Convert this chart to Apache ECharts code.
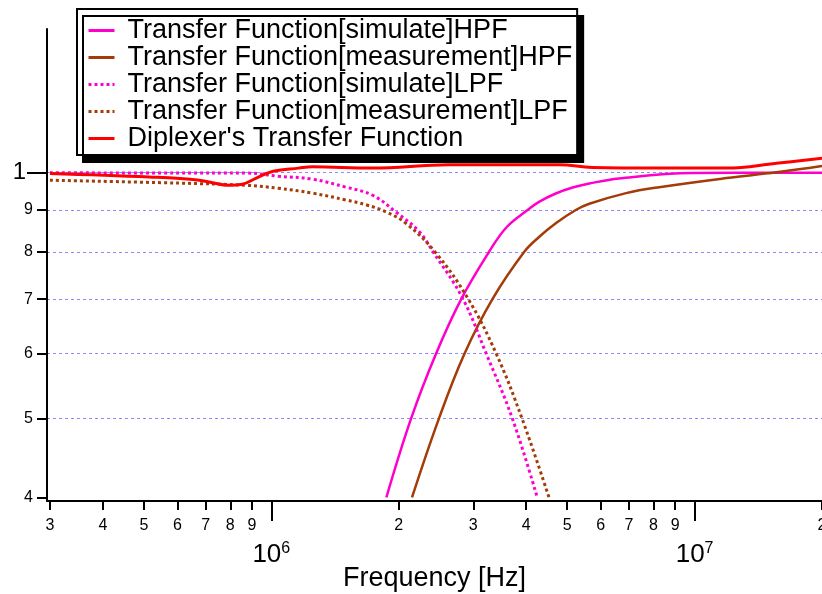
<!DOCTYPE html>
<html>
<head>
<meta charset="utf-8">
<script src="https://cdn.jsdelivr.net/npm/echarts@6/dist/echarts.min.js"></script>
<style>
  html, body { margin: 0; padding: 0; background: #fff; overflow: hidden; }
  #chart { width: 822px; height: 594px; }
</style>
</head>
<body>
<div id="chart"></div>
<script>
// values
const seriesNames = [
  'Transfer Function[simulate]HPF',
  'Transfer Function[measurement]HPF',
  'Transfer Function[simulate]LPF',
  'Transfer Function[measurement]LPF',
  "Diplexer's Transfer Function"
]

const hpfSimFreq = [1.87e6, 2.14e6, 2.45e6, 2.81e6, 3.27e6, 3.60e6, 4.03e6, 4.29e6, 4.70e6, 5.15e6, 5.64e6, 6.63e6, 9.87e6, 2.0e7]
const hpfSimVal = [0.400, 0.500, 0.600, 0.700, 0.800, 0.858, 0.900, 0.921, 0.943, 0.959, 0.970, 0.984, 0.999, 1.000]

const hpfMeasFreq = [2.15e6, 2.49e6, 2.86e6, 3.33e6, 3.96e6, 4.29e6, 4.70e6, 5.24e6, 5.64e6, 6.89e6, 8.25e6, 1.19e7, 1.56e7, 2.0e7]
const hpfMeasVal = [0.400, 0.500, 0.600, 0.700, 0.800, 0.834, 0.867, 0.900, 0.916, 0.944, 0.960, 0.985, 1.001, 1.019]

const lpfSimFreq = [3.0e5, 6.07e5, 8.73e5, 1.04e6, 1.25e6, 1.50e6, 1.73e6, 1.97e6, 2.24e6, 2.41e6, 2.83e6, 3.22e6, 3.71e6, 4.25e6]
const lpfSimVal = [1.000, 0.999, 0.999, 0.990, 0.982, 0.960, 0.939, 0.895, 0.846, 0.800, 0.702, 0.600, 0.500, 0.400]

const lpfMeasFreq = [3.0e5, 6.07e5, 8.73e5, 1.04e6, 1.25e6, 1.50e6, 1.68e6, 1.87e6, 2.08e6, 2.45e6, 2.92e6, 3.40e6, 3.91e6, 4.53e6]
const lpfMeasVal = [0.979, 0.971, 0.965, 0.957, 0.944, 0.926, 0.913, 0.895, 0.867, 0.797, 0.700, 0.600, 0.500, 0.400]

const dipFreq = [3.0e5, 5.15e5, 6.76e5, 7.96e5, 8.54e5, 9.22e5, 1.01e6, 1.16e6, 1.25e6, 1.73e6, 2.63e6, 4.79e6, 5.73e6, 8.25e6, 1.19e7, 1.56e7, 2.0e7]
const dipVal = [0.998, 0.988, 0.979, 0.965, 0.968, 0.985, 1.004, 1.013, 1.017, 1.013, 1.023, 1.023, 1.015, 1.013, 1.013, 1.027, 1.042]

// tick positions
const xMinorTicks = [3e5, 4e5, 5e5, 6e5, 7e5, 8e5, 9e5, 2e6, 3e6, 4e6, 5e6, 6e6, 7e6, 8e6, 9e6, 2e7]
const xMajorTicks = [1e6, 1e7]
const yMinorTicks = [0.4, 0.5, 0.6, 0.7, 0.8, 0.9]
const yMajorTicks = [1]
const yGridTicks = [0.5, 0.6, 0.7, 0.8, 0.9, 1]

const FONT = 'Liberation Sans, Arial, sans-serif'
const MAGENTA = '#ff00cc'
const BROWN = '#a33c08'
const RED = '#ff0000'

const pairs = (xs, ys) => xs.map((x, i) => [x, ys[i]])
const leadDigit = v => {
  const p = Math.pow(10, Math.floor(Math.log10(v) + 1e-9))
  return String(Math.round(v / p))
}

const chartInstance = echarts.init(document.getElementById('chart'), null, { renderer: 'canvas' })

const axisBlack = { lineStyle: { color: '#000', width: 2 } }

const lineSeries = (name, data, color, width, type) => ({
  name,
  type: 'line',
  data,
  xAxisIndex: 0,
  yAxisIndex: 0,
  symbol: 'circle',
  symbolSize: 0,
  showSymbol: false,
  smooth: 0.4,
  clip: true,
  lineStyle: { color, width, type },
  itemStyle: { color }
})

const option = {
  animation: false,
  backgroundColor: '#fff',
  textStyle: { fontFamily: FONT },
  grid: { left: 47, right: 0, top: 29, bottom: 93, containLabel: false, outerBoundsMode: 'none' },
  legend: {
    orient: 'vertical',
    left: 77,
    top: 9,
    data: seriesNames,
    backgroundColor: '#fff',
    borderColor: '#000',
    borderWidth: 2,
    borderRadius: 0,
    padding: [8, 5, 3, 10],
    shadowColor: '#000',
    shadowBlur: 0,
    shadowOffsetX: 6,
    shadowOffsetY: 7,
    itemWidth: 26,
    itemHeight: 14,
    itemGap: 0,
    itemStyle: { opacity: 0 },
    lineStyle: { width: 3 },
    textStyle: { fontFamily: FONT, fontSize: 27, color: '#000', lineHeight: 26.5, padding: [0, 0, 0, 8] },
    selectedMode: false
  },
  xAxis: [
    {
      type: 'log',
      min: 2.952e5,
      max: 2e7,
      position: 'bottom',
      axisLine: axisBlack,
      axisTick: { customValues: xMinorTicks, length: 9, lineStyle: { color: '#000', width: 2 } },
      axisLabel: {
        customValues: xMinorTicks,
        formatter: v => leadDigit(v),
        fontSize: 16,
        color: '#000',
        margin: 17,
        fontFamily: FONT
      },
      splitLine: { show: false },
      minorTick: { show: false }
    },
    {
      type: 'log',
      min: 2.952e5,
      max: 2e7,
      position: 'bottom',
      axisLine: { show: false },
      axisTick: { customValues: xMajorTicks, length: 20, lineStyle: { color: '#000', width: 2 } },
      axisLabel: {
        customValues: xMajorTicks,
        formatter: v => '{b|10}{s|' + Math.round(Math.log10(v)) + '}',
        margin: 40,
        color: '#000',
        rich: {
          b: { fontSize: 26, fontFamily: FONT, color: '#000', lineHeight: 28 },
          s: { fontSize: 16, fontFamily: FONT, color: '#000', verticalAlign: 'top', lineHeight: 28 }
        }
      },
      splitLine: { show: false },
      name: 'Frequency [Hz]',
      nameLocation: 'middle',
      nameGap: 64,
      nameMoveOverlap: false,
      nameTextStyle: { fontSize: 27, color: '#000', fontFamily: FONT }
    }
  ],
  yAxis: [
    {
      type: 'log',
      min: 0.396,
      max: 1.5,
      position: 'left',
      axisLine: axisBlack,
      axisTick: { customValues: yMinorTicks, length: 10, lineStyle: { color: '#000', width: 2 } },
      axisLabel: {
        customValues: yMinorTicks,
        formatter: v => leadDigit(v),
        fontSize: 16,
        color: '#000',
        margin: 14,
        fontFamily: FONT
      },
      splitLine: { show: false }
    },
    {
      type: 'log',
      min: 0.396,
      max: 1.5,
      position: 'left',
      axisLine: { show: false },
      axisTick: { customValues: yMajorTicks, length: 20, lineStyle: { color: '#000', width: 2 } },
      axisLabel: {
        customValues: yMajorTicks,
        formatter: v => leadDigit(v),
        fontSize: 24,
        color: '#000',
        margin: 21,
        fontFamily: FONT
      },
      splitLine: { show: false }
    },
    {
      type: 'log',
      min: 0.396,
      max: 1.5,
      position: 'left',
      axisLine: { show: false },
      axisTick: { show: false, customValues: yGridTicks },
      axisLabel: { show: false, customValues: yGridTicks },
      splitLine: { show: true, lineStyle: { color: '#8c8cff', width: 1, type: [3, 3] } }
    }
  ],
  series: [
    lineSeries(seriesNames[0], pairs(hpfSimFreq, hpfSimVal), MAGENTA, 2.5, 'solid'),
    lineSeries(seriesNames[1], pairs(hpfMeasFreq, hpfMeasVal), BROWN, 2.5, 'solid'),
    lineSeries(seriesNames[2], pairs(lpfSimFreq, lpfSimVal), MAGENTA, 3, 'dotted'),
    lineSeries(seriesNames[3], pairs(lpfMeasFreq, lpfMeasVal), BROWN, 3, 'dotted'),
    lineSeries(seriesNames[4], pairs(dipFreq, dipVal), RED, 3, 'solid')
  ]
}

chartInstance.setOption(option)
</script>
</body>
</html>
